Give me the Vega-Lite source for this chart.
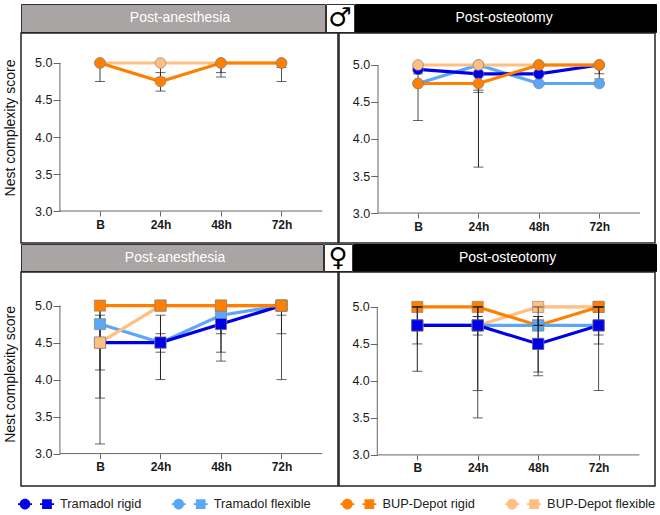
{
"$schema":"https://vega.github.io/schema/vega-lite/v6.json",
"padding":{"left":0,"top":3,"right":0,"bottom":0},
"background":"white",
"spacing":-1,
"resolve":{"scale":{"color":"independent"},"legend":{"color":"independent"}},
"config":{
"concat":{"spacing":-1},
"font":"Liberation Sans",
"view":{"stroke":"#222222","strokeWidth":1.5,"fill":"white"},
"axis":{"grid":false,"domain":false,"tickColor":"#666666","tickWidth":1,"labelColor":"#1a1a1a","labelFontSize":12.5},
"axisX":{"tickSize":5,"labelFontWeight":"bold","labelPadding":3,"labelFontSize":12,"labelExpr":"datum.value==0?'B':datum.value+'h'","labelAngle":0},
"axisY":{"tickSize":7,"labelPadding":1,"format":".1f"}
},
"datasets":{
"axes1":[{"xa":-15.9,"xb":-15.9,"ya":3,"yb":5},{"xa":-15.9,"xb":88.2,"ya":3,"yb":3}],
"groups":[{"group":"Tramadol rigid"},{"group":"Tramadol flexible"},{"group":"BUP-Depot rigid"},{"group":"BUP-Depot flexible"}],
"p1":[
{"group":"BUP-Depot flexible","t":0,"score":5,"lo":5,"hi":5},{"group":"BUP-Depot flexible","t":24,"score":5,"lo":4.8,"hi":5},{"group":"BUP-Depot flexible","t":48,"score":5,"lo":4.81,"hi":5},{"group":"BUP-Depot flexible","t":72,"score":5,"lo":4.75,"hi":5},
{"group":"BUP-Depot rigid","t":0,"score":5,"lo":4.75,"hi":5},{"group":"BUP-Depot rigid","t":24,"score":4.75,"lo":4.62,"hi":4.87},{"group":"BUP-Depot rigid","t":48,"score":5,"lo":4.87,"hi":5},{"group":"BUP-Depot rigid","t":72,"score":5,"lo":4.94,"hi":5}],
"p2":[
{"group":"Tramadol flexible","t":0,"score":4.75,"lo":4.75,"hi":4.75},{"group":"Tramadol flexible","t":24,"score":5,"lo":5,"hi":5},{"group":"Tramadol flexible","t":48,"score":4.75,"lo":4.75,"hi":4.75},{"group":"Tramadol flexible","t":72,"score":4.75,"lo":4.75,"hi":4.75},
{"group":"Tramadol rigid","t":0,"score":4.94,"lo":4.88,"hi":5},{"group":"Tramadol rigid","t":24,"score":4.88,"lo":3.62,"hi":5},{"group":"Tramadol rigid","t":48,"score":4.88,"lo":4.76,"hi":5},{"group":"Tramadol rigid","t":72,"score":5,"lo":4.88,"hi":5},
{"group":"BUP-Depot flexible","t":0,"score":5,"lo":4.25,"hi":5},{"group":"BUP-Depot flexible","t":24,"score":5,"lo":4.66,"hi":5},{"group":"BUP-Depot flexible","t":48,"score":5,"lo":5,"hi":5},{"group":"BUP-Depot flexible","t":72,"score":5,"lo":5,"hi":5},
{"group":"BUP-Depot rigid","t":0,"score":4.75,"lo":4.75,"hi":4.75},{"group":"BUP-Depot rigid","t":24,"score":4.75,"lo":4.63,"hi":4.87},{"group":"BUP-Depot rigid","t":48,"score":5,"lo":5,"hi":5},{"group":"BUP-Depot rigid","t":72,"score":5,"lo":4.81,"hi":5}],
"p3":[
{"group":"Tramadol flexible","t":0,"score":4.75,"lo":3.75,"hi":5},{"group":"Tramadol flexible","t":24,"score":4.5,"lo":4.37,"hi":4.62},{"group":"Tramadol flexible","t":48,"score":4.87,"lo":4.62,"hi":5},{"group":"Tramadol flexible","t":72,"score":5,"lo":4.87,"hi":5},
{"group":"Tramadol rigid","t":0,"score":4.5,"lo":4.13,"hi":4.87},{"group":"Tramadol rigid","t":24,"score":4.5,"lo":4,"hi":4.87},{"group":"Tramadol rigid","t":48,"score":4.75,"lo":4.37,"hi":5},{"group":"Tramadol rigid","t":72,"score":5,"lo":4.62,"hi":5},
{"group":"BUP-Depot flexible","t":0,"score":4.5,"lo":3.13,"hi":5},{"group":"BUP-Depot flexible","t":24,"score":5,"lo":5,"hi":5},{"group":"BUP-Depot flexible","t":48,"score":5,"lo":4.25,"hi":5},{"group":"BUP-Depot flexible","t":72,"score":5,"lo":4,"hi":5},
{"group":"BUP-Depot rigid","t":0,"score":5,"lo":5,"hi":5},{"group":"BUP-Depot rigid","t":24,"score":5,"lo":5,"hi":5},{"group":"BUP-Depot rigid","t":48,"score":5,"lo":5,"hi":5},{"group":"BUP-Depot rigid","t":72,"score":5,"lo":5,"hi":5}],
"p4":[
{"group":"BUP-Depot flexible","t":0,"score":4.75,"lo":4.75,"hi":4.75},{"group":"BUP-Depot flexible","t":24,"score":4.75,"lo":3.5,"hi":5},{"group":"BUP-Depot flexible","t":48,"score":5,"lo":4.07,"hi":5},{"group":"BUP-Depot flexible","t":72,"score":5,"lo":3.87,"hi":5},
{"group":"BUP-Depot rigid","t":0,"score":5,"lo":5,"hi":5},{"group":"BUP-Depot rigid","t":24,"score":5,"lo":4.87,"hi":5},{"group":"BUP-Depot rigid","t":48,"score":4.75,"lo":4.75,"hi":4.75},{"group":"BUP-Depot rigid","t":72,"score":5,"lo":5,"hi":5},
{"group":"Tramadol flexible","t":0,"score":4.75,"lo":4.5,"hi":5},{"group":"Tramadol flexible","t":24,"score":4.75,"lo":3.87,"hi":5},{"group":"Tramadol flexible","t":48,"score":4.75,"lo":4.75,"hi":4.87},{"group":"Tramadol flexible","t":72,"score":4.75,"lo":4.5,"hi":5},
{"group":"Tramadol rigid","t":0,"score":4.75,"lo":4.13,"hi":5},{"group":"Tramadol rigid","t":24,"score":4.75,"lo":4.62,"hi":4.87},{"group":"Tramadol rigid","t":48,"score":4.5,"lo":4.12,"hi":4.87},{"group":"Tramadol rigid","t":72,"score":4.75,"lo":4.62,"hi":5}]
},
"vconcat":[
{"hconcat":[
{"width":21,"height":28,"view":{"fill":null,"stroke":null},"data":{"values":[{"label":""}]},"mark":{"type":"text"},"encoding":{"text":{"field":"label"}}},
{"width":304,"height":28,"view":{"fill":"#a9a5a5","stroke":"#333333"},"data":{"values":[{"label":"Post-anesthesia"}]},"mark":{"type":"text","color":"white","fontSize":14,"dx":7},"encoding":{"text":{"field":"label"}}},
{"width":28,"height":28,"view":{"fill":"white","stroke":"#333333"},"data":{"values":[{"label":"♂"}]},"mark":{"type":"text","color":"black","fontSize":26,"font":"DejaVu Sans"},"encoding":{"text":{"field":"label"}}},
{"width":301,"height":28,"view":{"fill":"black","stroke":"black"},"data":{"values":[{"label":"Post-osteotomy"}]},"mark":{"type":"text","color":"white","fontSize":14,"dx":-1.5},"encoding":{"text":{"field":"label"}}}
]},
{"hconcat":[
{"width":21,"height":210,"view":{"fill":null,"stroke":null},"data":{"values":[{"label":"Nest complexity score"}]},"mark":{"type":"text","angle":270,"fontSize":14,"color":"#111111","dx":10,"dy":0},"encoding":{"text":{"field":"label"}}},
{"width":317,"height":210,"data":{"name":"p1"},
"encoding":{"x":{"field":"t","type":"quantitative","scale":{"domain":[-31.34,94.42],"nice":false,"zero":false},"axis":{"offset":-32,"title":null,"values":[0,24,48,72]}},
"y":{"field":"score","type":"quantitative","scale":{"domain":[2.568,5.405],"nice":false,"zero":false},"axis":{"offset":-39,"title":null,"values":[3,3.5,4,4.5,5]}}},
"layer":[
{"data":{"name":"axes1"},"mark":{"type":"rule","color":"#666666"},"encoding":{"x":{"field":"xa","type":"quantitative"},"x2":{"field":"xb"},"y":{"field":"ya","type":"quantitative"},"y2":{"field":"yb"}}},
{"mark":{"type":"rule","color":"#222222"},"encoding":{"y":{"field":"lo","type":"quantitative"},"y2":{"field":"hi"},"opacity":{"field":"group","type":"nominal","legend":null,"scale":{"domain":["Tramadol rigid","Tramadol flexible","BUP-Depot rigid","BUP-Depot flexible"],"range":[1,0.8,0.9,0.5]}}}},
{"mark":{"type":"tick","orient":"horizontal","size":10,"thickness":1,"color":"#222222"},"encoding":{"y":{"field":"lo","type":"quantitative"}}},
{"mark":{"type":"tick","orient":"horizontal","size":10,"thickness":1,"color":"#222222"},"encoding":{"y":{"field":"hi","type":"quantitative"}}},
{"mark":{"type":"line","strokeWidth":3.2},"encoding":{"color":{"field":"group","type":"nominal","legend":null,"scale":{"domain":["Tramadol rigid","Tramadol flexible","BUP-Depot rigid","BUP-Depot flexible"],"range":["#0000e6","#5ba7f5","#ff7f00","#ffbf80"]}}}},
{"mark":{"type":"circle","size":115,"opacity":1,"stroke":"#808080","strokeWidth":0.6},"encoding":{"color":{"field":"group","type":"nominal","legend":null,"scale":{"domain":["Tramadol rigid","Tramadol flexible","BUP-Depot rigid","BUP-Depot flexible"],"range":["#0000e6","#5ba7f5","#ff7f00","#ffbf80"]}}}}
]},
{"width":316,"height":210,"data":{"name":"p2"},
"encoding":{"x":{"field":"t","type":"quantitative","scale":{"domain":[-31.4,94.15],"nice":false,"zero":false},"axis":{"offset":-30,"title":null,"values":[0,24,48,72]}},
"y":{"field":"score","type":"quantitative","scale":{"domain":[2.595,5.432],"nice":false,"zero":false},"axis":{"offset":-38.7,"title":null,"values":[3,3.5,4,4.5,5]}}},
"layer":[
{"data":{"name":"axes1"},"mark":{"type":"rule","color":"#666666"},"encoding":{"x":{"field":"xa","type":"quantitative"},"x2":{"field":"xb"},"y":{"field":"ya","type":"quantitative"},"y2":{"field":"yb"}}},
{"mark":{"type":"rule","color":"#222222"},"encoding":{"y":{"field":"lo","type":"quantitative"},"y2":{"field":"hi"},"opacity":{"field":"group","type":"nominal","legend":null,"scale":{"domain":["Tramadol rigid","Tramadol flexible","BUP-Depot rigid","BUP-Depot flexible"],"range":[1,0.8,0.9,0.5]}}}},
{"mark":{"type":"tick","orient":"horizontal","size":10,"thickness":1,"color":"#222222"},"encoding":{"y":{"field":"lo","type":"quantitative"}}},
{"mark":{"type":"tick","orient":"horizontal","size":10,"thickness":1,"color":"#222222"},"encoding":{"y":{"field":"hi","type":"quantitative"}}},
{"mark":{"type":"line","strokeWidth":3.2},"encoding":{"color":{"field":"group","type":"nominal","legend":null,"scale":{"domain":["Tramadol rigid","Tramadol flexible","BUP-Depot rigid","BUP-Depot flexible"],"range":["#0000e6","#5ba7f5","#ff7f00","#ffbf80"]}}}},
{"mark":{"type":"circle","size":115,"opacity":1,"stroke":"#808080","strokeWidth":0.6},"encoding":{"color":{"field":"group","type":"nominal","legend":null,"scale":{"domain":["Tramadol rigid","Tramadol flexible","BUP-Depot rigid","BUP-Depot flexible"],"range":["#0000e6","#5ba7f5","#ff7f00","#ffbf80"]}}}}
]}
]},
{"hconcat":[
{"width":21,"height":27,"view":{"fill":null,"stroke":null},"data":{"values":[{"label":""}]},"mark":{"type":"text"},"encoding":{"text":{"field":"label"}}},
{"width":302,"height":27,"view":{"fill":"#a9a5a5","stroke":"#333333"},"data":{"values":[{"label":"Post-anesthesia"}]},"mark":{"type":"text","color":"white","fontSize":14,"dx":3},"encoding":{"text":{"field":"label"}}},
{"width":28,"height":27,"view":{"fill":"white","stroke":"#333333"},"data":{"values":[{"label":"♀"}]},"mark":{"type":"text","color":"black","fontSize":26,"font":"DejaVu Sans"},"encoding":{"text":{"field":"label"}}},
{"width":303,"height":27,"view":{"fill":"black","stroke":"black"},"data":{"values":[{"label":"Post-osteotomy"}]},"mark":{"type":"text","color":"white","fontSize":14,"dx":3},"encoding":{"text":{"field":"label"}}}
]},
{"hconcat":[
{"width":21,"height":214,"view":{"fill":null,"stroke":null},"data":{"values":[{"label":"Nest complexity score"}]},"mark":{"type":"text","angle":270,"fontSize":14,"color":"#111111","dx":4.6,"dy":0},"encoding":{"text":{"field":"label"}}},
{"width":317,"height":214,"data":{"name":"p3"},
"encoding":{"x":{"field":"t","type":"quantitative","scale":{"domain":[-31.34,94.42],"nice":false,"zero":false},"axis":{"offset":-32.4,"title":null,"values":[0,24,48,72]}},
"y":{"field":"score","type":"quantitative","scale":{"domain":[2.562,5.454],"nice":false,"zero":false},"axis":{"offset":-39,"title":null,"values":[3,3.5,4,4.5,5]}}},
"layer":[
{"data":{"name":"axes1"},"mark":{"type":"rule","color":"#666666"},"encoding":{"x":{"field":"xa","type":"quantitative"},"x2":{"field":"xb"},"y":{"field":"ya","type":"quantitative"},"y2":{"field":"yb"}}},
{"mark":{"type":"rule","color":"#222222"},"encoding":{"y":{"field":"lo","type":"quantitative"},"y2":{"field":"hi"},"opacity":{"field":"group","type":"nominal","legend":null,"scale":{"domain":["Tramadol rigid","Tramadol flexible","BUP-Depot rigid","BUP-Depot flexible"],"range":[1,0.8,0.9,0.5]}}}},
{"mark":{"type":"tick","orient":"horizontal","size":10,"thickness":1,"color":"#222222"},"encoding":{"y":{"field":"lo","type":"quantitative"}}},
{"mark":{"type":"tick","orient":"horizontal","size":10,"thickness":1,"color":"#222222"},"encoding":{"y":{"field":"hi","type":"quantitative"}}},
{"mark":{"type":"line","strokeWidth":3.2},"encoding":{"color":{"field":"group","type":"nominal","legend":null,"scale":{"domain":["Tramadol rigid","Tramadol flexible","BUP-Depot rigid","BUP-Depot flexible"],"range":["#0000e6","#5ba7f5","#ff7f00","#ffbf80"]}}}},
{"mark":{"type":"square","size":125,"opacity":1,"stroke":"#808080","strokeWidth":0.6},"encoding":{"color":{"field":"group","type":"nominal","legend":null,"scale":{"domain":["Tramadol rigid","Tramadol flexible","BUP-Depot rigid","BUP-Depot flexible"],"range":["#0000e6","#5ba7f5","#ff7f00","#ffbf80"]}}}}
]},
{"width":316,"height":214,"data":{"name":"p4"},
"encoding":{"x":{"field":"t","type":"quantitative","scale":{"domain":[-31.1,94.4],"nice":false,"zero":false},"axis":{"offset":-31.1,"title":null,"values":[0,24,48,72]}},
"y":{"field":"score","type":"quantitative","scale":{"domain":[2.58,5.472],"nice":false,"zero":false},"axis":{"offset":-38.3,"title":null,"values":[3,3.5,4,4.5,5]}}},
"layer":[
{"data":{"name":"axes1"},"mark":{"type":"rule","color":"#666666"},"encoding":{"x":{"field":"xa","type":"quantitative"},"x2":{"field":"xb"},"y":{"field":"ya","type":"quantitative"},"y2":{"field":"yb"}}},
{"mark":{"type":"line","strokeWidth":3.2},"encoding":{"color":{"field":"group","type":"nominal","legend":null,"scale":{"domain":["Tramadol rigid","Tramadol flexible","BUP-Depot rigid","BUP-Depot flexible"],"range":["#0000e6","#5ba7f5","#ff7f00","#ffbf80"]}}}},
{"mark":{"type":"square","size":125,"opacity":1,"stroke":"#808080","strokeWidth":0.6},"encoding":{"color":{"field":"group","type":"nominal","legend":null,"scale":{"domain":["Tramadol rigid","Tramadol flexible","BUP-Depot rigid","BUP-Depot flexible"],"range":["#0000e6","#5ba7f5","#ff7f00","#ffbf80"]}}}},
{"mark":{"type":"rule","color":"#222222"},"encoding":{"y":{"field":"lo","type":"quantitative"},"y2":{"field":"hi"},"opacity":{"field":"group","type":"nominal","legend":null,"scale":{"domain":["Tramadol rigid","Tramadol flexible","BUP-Depot rigid","BUP-Depot flexible"],"range":[1,0.8,0.9,0.5]}}}},
{"mark":{"type":"tick","orient":"horizontal","size":10,"thickness":1,"color":"#222222"},"encoding":{"y":{"field":"lo","type":"quantitative"}}},
{"mark":{"type":"tick","orient":"horizontal","size":10,"thickness":1,"color":"#222222"},"encoding":{"y":{"field":"hi","type":"quantitative"}}},
{"transform":[{"filter":"datum.group==='Tramadol rigid'"}],"mark":{"type":"square","size":125,"opacity":1,"color":"#0000e6","stroke":"#808080","strokeWidth":0.6}}
]}
]},
{"width":640,"height":25,"view":{"fill":null,"stroke":null},"data":{"name":"groups"},
"mark":{"type":"square","size":0},
"encoding":{"color":{"field":"group","type":"nominal","scale":{"domain":["Tramadol rigid","Tramadol flexible","BUP-Depot rigid","BUP-Depot flexible"],"range":["#0000e6","#5ba7f5","#ff7f00","#ffbf80"]},
"legend":{"title":null,"orient":"none","legendX":18,"legendY":-1,"direction":"horizontal","columns":4,"padding":0,"gridAlign":"each","columnPadding":29.7,"rowPadding":0,"symbolType":"M-0.91,0 A0.3,0.3 0 1 1 -0.31,0 A0.3,0.3 0 1 1 -0.91,0 Z M-1,-0.05 H-0.22 V0.05 H-1 Z M0.34,-0.27 H0.88 V0.27 H0.34 Z M0.22,-0.05 H1 V0.05 H0.22 Z","symbolSize":1296,"symbolStrokeWidth":0,"labelOffset":6,"labelFontSize":12.8,"labelColor":"#222222","labelLimit":200,"symbolOpacity":1}}}}
]
}
